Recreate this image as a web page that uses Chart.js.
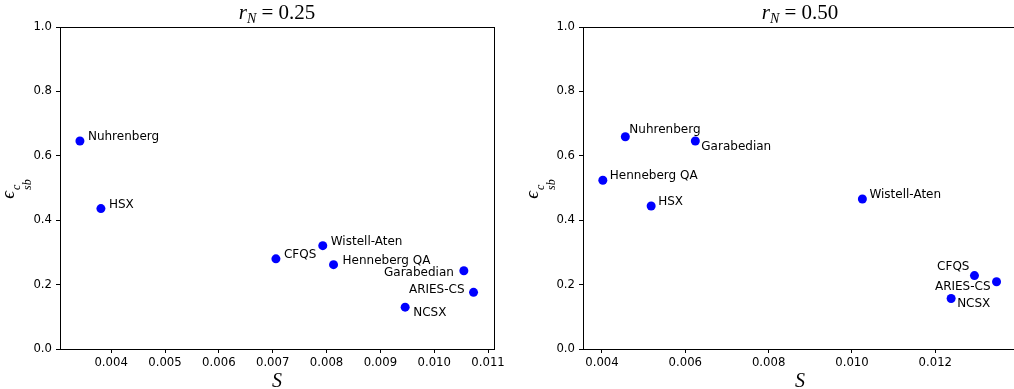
<!DOCTYPE html>
<html>
<head>
<meta charset="utf-8">
<script src="https://cdn.jsdelivr.net/npm/chart.js@4"></script>
<style>
  body { margin: 0; background: #fff; }
  #wrap { position: relative; width: 1014px; height: 389px; overflow: hidden; }
  canvas { position: absolute; top: 0; }
  .txt { position: absolute; transform: translate(-50%, -50%); font-family: "Liberation Serif", "DejaVu Serif", serif; font-size: 20px; color: #000; white-space: nowrap; line-height: 1; }
  .title { font-size: 21px; }
  .txt sub { font-size: 14px; vertical-align: -4px; }
  .ylab { transform: translate(-50%, -50%) rotate(-90deg); font-size: 19px; }
  .ss { display: inline-flex; flex-direction: column; font-size: 12px; font-style: italic; line-height: 0.9; vertical-align: -6px; margin-left: 1px; }
</style>
</head>
<body>
<div id="wrap">
  <canvas id="left" width="507" height="389" style="left:0"></canvas>
  <canvas id="right" width="507" height="389" style="left:507px"></canvas>
  <div class="txt title" style="left:277px; top:14px"><i>r</i><sub><i>N</i></sub> = 0.25</div>
  <div class="txt title" style="left:800px; top:14px"><i>r</i><sub><i>N</i></sub> = 0.50</div>
  <div class="txt" style="left:277px; top:380px"><i>S</i></div>
  <div class="txt" style="left:800px; top:380px"><i>S</i></div>
  <div class="txt ylab" style="left:15px; top:189px"><i>ϵ</i><span class="ss"><span>c</span><span>sb</span></span></div>
  <div class="txt ylab" style="left:539px; top:189px"><i>ϵ</i><span class="ss"><span>c</span><span>sb</span></span></div>
</div>
<script>
// r_N = 0.25 data
const names25 = ['Nuhrenberg', 'HSX', 'CFQS', 'Wistell-Aten', 'Henneberg QA', 'Garabedian', 'ARIES-CS', 'NCSX'];
const s25 = [0.00342, 0.00381, 0.00706, 0.00793, 0.00813, 0.01055, 0.01073, 0.00946];
const eps25 = [0.646, 0.436, 0.280, 0.321, 0.262, 0.243, 0.176, 0.130];

// r_N = 0.50 data
const names50 = ['Nuhrenberg', 'Garabedian', 'Henneberg QA', 'HSX', 'Wistell-Aten', 'CFQS', 'ARIES-CS', 'NCSX'];
const s50 = [0.00456, 0.00624, 0.00402, 0.00518, 0.01025, 0.01294, 0.01347, 0.01238];
const eps50 = [0.659, 0.646, 0.524, 0.444, 0.466, 0.228, 0.209, 0.157];

// tick values
const xTicks25 = [0.004, 0.005, 0.006, 0.007, 0.008, 0.009, 0.010, 0.011];
const xTicks50 = [0.004, 0.006, 0.008, 0.010, 0.012];
const yTicks = [0.0, 0.2, 0.4, 0.6, 0.8, 1.0];

// label placement (dx, dy in px, alignment)
const offsets25 = {
    'Nuhrenberg': [8, -4, 'left'], 'HSX': [8, -4, 'left'], 'CFQS': [8, -4, 'left'],
    'Wistell-Aten': [8, -4, 'left'], 'Henneberg QA': [9, -4, 'left'],
    'Garabedian': [-10, 2, 'right'], 'ARIES-CS': [-9, -2, 'right'], 'NCSX': [8, 6, 'left']
};
const offsets50 = {
    'Nuhrenberg': [4, -7, 'left'], 'Garabedian': [6, 6, 'left'], 'Henneberg QA': [7, -4, 'left'],
    'HSX': [7, -4, 'left'], 'Wistell-Aten': [7, -4, 'left'],
    'CFQS': [-5, -9, 'right'], 'ARIES-CS': [-6, 5, 'right'], 'NCSX': [6, 5, 'left']
};

const pointLabels = {
    id: 'pointLabels',
    afterDatasetsDraw(chart, args, opts) {
        const ctx = chart.ctx;
        const meta = chart.getDatasetMeta(0);
        ctx.save();
        ctx.font = '12px "DejaVu Sans"';
        ctx.fillStyle = '#000';
        ctx.textBaseline = 'middle';
        meta.data.forEach((pt, i) => {
            const name = opts.names[i];
            const o = opts.offsets[name];
            ctx.textAlign = o[2];
            ctx.fillText(name, pt.x + o[0], pt.y + o[1]);
        });
        ctx.restore();
    }
};

const frame = {
    id: 'frame',
    afterDraw(chart) {
        const a = chart.chartArea;
        const ctx = chart.ctx;
        ctx.save();
        ctx.strokeStyle = '#000';
        ctx.lineWidth = 1;
        ctx.strokeRect(Math.round(a.left) + 0.5, Math.round(a.top) + 0.5,
            Math.round(a.right - a.left), Math.round(a.bottom - a.top));
        ctx.restore();
    }
};

function makeChart(id, xs, ys, names, xTicks, xMin, xMax, yWidth, rightPad, offsets) {
    return new Chart(document.getElementById(id), {
        type: 'scatter',
        data: {
            datasets: [{
                data: xs.map((x, i) => ({ x: x, y: ys[i] })),
                backgroundColor: '#0000ff',
                borderWidth: 0,
                pointRadius: 4.5,
                pointHoverRadius: 4.5
            }]
        },
        options: {
            responsive: false,
            animation: false,
            events: [],
            layout: { autoPadding: false, padding: { top: 27, right: rightPad, left: 0, bottom: 0 } },
            plugins: {
                legend: { display: false },
                tooltip: { enabled: false },
                pointLabels: { names: names, offsets: offsets }
            },
            scales: {
                x: {
                    type: 'linear',
                    min: xMin,
                    max: xMax,
                    border: { display: false },
                    grid: { drawOnChartArea: false, drawTicks: true, tickLength: 4, color: '#000' },
                    afterBuildTicks: s => { s.ticks = xTicks.map(v => ({ value: v })); },
                    afterFit: s => { s.height = 40; s.paddingLeft = 0; s.paddingRight = 0; },
                    ticks: {
                        color: '#000',
                        padding: 3,
                        maxRotation: 0,
                        autoSkip: false,
                        font: { family: 'DejaVu Sans', size: 11.7 },
                        callback: v => v.toFixed(3)
                    }
                },
                y: {
                    type: 'linear',
                    min: 0,
                    max: 1,
                    border: { display: false },
                    grid: { drawOnChartArea: false, drawTicks: true, tickLength: 4, color: '#000' },
                    afterBuildTicks: s => { s.ticks = yTicks.map(v => ({ value: v })); },
                    afterFit: s => { s.width = yWidth; s.paddingTop = 0; s.paddingBottom = 0; },
                    ticks: {
                        color: '#000',
                        padding: 4,
                        font: { family: 'DejaVu Sans', size: 11.7 },
                        callback: v => v.toFixed(1)
                    }
                }
            }
        },
        plugins: [pointLabels, frame]
    });
}

makeChart('left', s25, eps25, names25, xTicks25, 0.00305, 0.01111, 60, 13, offsets25);
makeChart('right', s50, eps50, names50, xTicks50, 0.003544, 0.013889, 76, 0, offsets50);
</script>
</body>
</html>
